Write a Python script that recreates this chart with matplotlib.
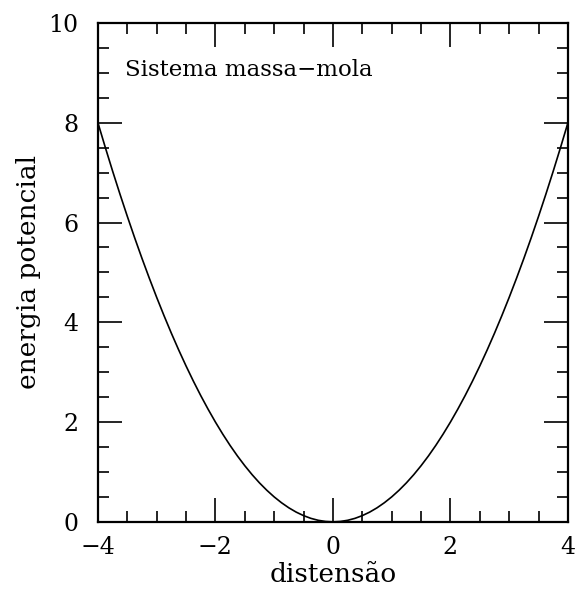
import matplotlib
matplotlib.use("Agg")
import matplotlib.pyplot as plt
from matplotlib.ticker import MultipleLocator

# distensão vs energia potencial
distensao = [-4.0, -3.875, -3.75, -3.625, -3.5, -3.375, -3.25, -3.125,
             -3.0, -2.875, -2.75, -2.625, -2.5, -2.375, -2.25, -2.125,
             -2.0, -1.875, -1.75, -1.625, -1.5, -1.375, -1.25, -1.125,
             -1.0, -0.875, -0.75, -0.625, -0.5, -0.375, -0.25, -0.125,
             0.0, 0.125, 0.25, 0.375, 0.5, 0.625, 0.75, 0.875,
             1.0, 1.125, 1.25, 1.375, 1.5, 1.625, 1.75, 1.875,
             2.0, 2.125, 2.25, 2.375, 2.5, 2.625, 2.75, 2.875,
             3.0, 3.125, 3.25, 3.375, 3.5, 3.625, 3.75, 3.875, 4.0]
energia = [8.0, 7.508, 7.031, 6.570, 6.125, 5.695, 5.281, 4.883,
           4.5, 4.133, 3.781, 3.445, 3.125, 2.820, 2.531, 2.258,
           2.0, 1.758, 1.531, 1.320, 1.125, 0.945, 0.781, 0.633,
           0.5, 0.383, 0.281, 0.195, 0.125, 0.070, 0.031, 0.008,
           0.0, 0.008, 0.031, 0.070, 0.125, 0.195, 0.281, 0.383,
           0.5, 0.633, 0.781, 0.945, 1.125, 1.320, 1.531, 1.758,
           2.0, 2.258, 2.531, 2.820, 3.125, 3.445, 3.781, 4.133,
           4.5, 4.883, 5.281, 5.695, 6.125, 6.570, 7.031, 7.508, 8.0]

xticks = [-4, -2, 0, 2, 4]
xticklabels = ["\u22124", "\u22122", "0", "2", "4"]

plt.rcParams['font.family'] = ['DejaVu Serif']

fig = plt.figure(figsize=(5.76, 5.89), dpi=100)
ax = fig.add_axes([0.170, 0.114, 0.816, 0.847])

ax.plot(distensao, energia, color="black", lw=1.2)

ax.set_xlim(-4, 4)
ax.set_ylim(0, 10)
ax.xaxis.set_minor_locator(MultipleLocator(0.5))
ax.yaxis.set_major_locator(MultipleLocator(2))
ax.yaxis.set_minor_locator(MultipleLocator(0.5))
ax.set_xticks(xticks)
ax.set_xticklabels(xticklabels)
ax.tick_params(which="both", direction="in", top=True, right=True,
               labelsize=17, width=1.2)
ax.tick_params(axis="x", pad=10)
ax.tick_params(axis="y", pad=14)
ax.tick_params(which="major", length=17)
ax.tick_params(which="minor", length=8)
for s in ax.spines.values():
    s.set_linewidth(1.6)

ax.set_xlabel("distensão", fontsize=19, labelpad=2)
ax.set_ylabel("energia potencial", fontsize=19, labelpad=5)
ax.text(-3.54, 9.06, "Sistema massa\u2212mola", fontsize=16.5, va="center")

fig.savefig("out.png", dpi=100)
